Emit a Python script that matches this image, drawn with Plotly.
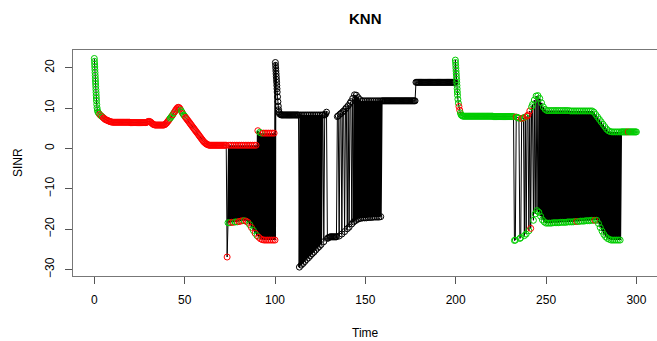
import plotly.graph_objects as go

STEP = 0.5

# ---------------- data (SINR per sample; class: g=green, r=red, k=black) -------------
# A: initial fast drop (explicit sample times)
tA = [0.0, 0.08, 0.16, 0.24, 0.32, 0.40, 0.48, 0.56, 0.64, 0.72, 0.80, 0.88, 0.96,
      1.04, 1.12, 1.20, 1.35, 1.5, 1.7]
vA = [22.3, 21.6, 20.9, 20.2, 19.5, 18.8, 18.1, 17.4, 16.7, 16.0, 15.3, 14.6, 13.9,
      13.2, 12.5, 11.8, 10.9, 10.1, 9.5]
cA = "g" * 19

# B: t = 2.0 ... 73.0 (uniform 0.5 steps)
b1_t0 = 2.0
b1_v = [9.0, 8.7, 8.4, 8.2, 8.0, 7.8, 7.6, 7.4, 7.2, 7.1, 7.0, 6.9, 6.8, 6.7, 6.6, 6.6, 6.5]
b1_c = "ggrgrgrrrrrrrrrrr"
b2_t0 = 10.5
b2_v = [6.5, 6.5, 6.5, 6.5, 6.5, 6.5, 6.5, 6.5, 6.5, 6.5, 6.5, 6.5, 6.5, 6.5, 6.5, 6.5,
        6.5, 6.5, 6.5, 6.4, 6.4, 6.4, 6.4, 6.4, 6.4, 6.4, 6.4, 6.4, 6.4, 6.4, 6.4, 6.4,
        6.4, 6.4, 6.4, 6.4, 6.4]
b2_c = "r" * 37
b3_t0 = 29.0
b3_v = [6.5, 6.6, 6.7, 6.7, 6.6, 6.4, 6.2, 6.0, 5.9, 5.8, 5.8, 5.8, 5.8, 5.8, 5.8, 5.8,
        5.8, 5.8, 5.8, 5.8, 5.9, 6.1, 6.3, 6.6, 6.9, 7.2]
b3_c = "r" * 26
b4_t0 = 42.0
b4_v = [7.5, 7.8, 8.1, 8.4, 8.8, 9.1, 9.5, 9.8, 10.1, 10.2, 10.1, 9.8, 9.4, 9.0, 8.6, 8.3, 8.0]
b4_c = "gggrgrrrrrrrggrgg"
b5_t0 = 50.5
b5_v = [7.7, 7.4, 7.1, 6.8, 6.5, 6.2, 5.9, 5.6, 5.3, 5.0, 4.7, 4.4, 4.1, 3.8, 3.5, 3.2,
        2.9, 2.6, 2.3, 2.0, 1.7, 1.5, 1.3, 1.1, 1.0, 0.9]
b5_c = "r" * 26
b6_t0 = 63.5
b6_v = [0.8, 0.8, 0.8, 0.8, 0.8, 0.8, 0.8, 0.8, 0.8, 0.8, 0.8, 0.8, 0.8, 0.8, 0.8, 0.8,
        0.8, 0.8, 0.8, 0.8]
b6_c = "r" * 20

# B7: t = 73.5 single low sample, then switching every sample between two cells (74.0 ... 100.0)
b7_t0 = 73.5
b7_first_v = -26.9
b7_first_c = "r"
b7_low = [-18.4, -18.4, -18.3, -18.3, -18.2, -18.2, -18.1, -18.0, -17.9, -17.9, -18.0, -18.3,
          -18.9, -19.6, -20.3, -21.0, -21.6, -22.0, -22.4, -22.6, -22.7, -22.7, -22.7, -22.7,
          -22.7, -22.7, -22.7]
b7_low_c = "ggrrggrrrgrrgrgrgrrr" + "rrrrrrr"
b7_high = [0.8, 0.8, 0.8, 0.8, 0.8, 0.8, 0.8, 0.8, 0.8, 0.8, 0.8, 0.8, 0.8, 0.8, 0.8, 0.8,
           4.4, 4.0, 3.8, 3.8, 3.8, 3.8, 3.8, 3.8, 3.8, 3.8]
b7_high_c = "rrrrrrrrrrrrrrrr" + "rgg" + "rrrrrrr"

# C: fast drop after t = 100 (explicit sample times)
tC = [100.2, 100.3, 100.4, 100.5, 100.6, 100.7, 100.8, 100.9, 101.0, 101.1, 101.2, 101.4,
      101.6, 101.8, 102.0, 102.2]
vC = [21.3, 20.6, 19.9, 19.2, 18.5, 17.8, 17.1, 16.4, 15.6, 14.8, 14.0, 12.8, 11.6, 10.5,
      9.6, 9.0]
cC = "k" * 16

# D: t = 102.5 ... 199.5
d1_t0 = 102.5
d1_v = [8.6, 8.4, 8.3, 8.3, 8.3, 8.3, 8.3, 8.3, 8.3, 8.3, 8.3, 8.3, 8.3, 8.3, 8.3, 8.3,
        8.3, 8.3, 8.3, 8.3, 8.3, 8.3]
# D2: switching every sample, 113.5 ... 125.5 (low first)
d2_t0 = 113.5
d2_low = [-29.4, -28.9, -28.5, -28.0, -27.5, -27.1, -26.6, -26.1, -25.7, -25.2, -24.7,
          -24.3, -23.8]
d2_high = [8.3, 8.3, 8.3, 8.3, 8.3, 8.3, 8.3, 8.3, 8.3, 8.3, 8.3, 8.3]
d3_t0 = 126.0
d3_v = [8.3, 8.3, -23.1, 8.3, 8.5, 9.0, -22.3, -22.1, -22.0, -21.9, -21.9, -21.9, -21.9,
        -21.9, -21.9, -21.9, -21.9]
d4_t0 = 134.5
d4_v = [7.9, 8.1, -21.7, 8.5, 8.7, -21.2, 9.1, 9.3, -20.6, 9.8, 10.1, -19.9, 10.6, -19.5,
        11.2, 11.6, -18.7, 12.4]
# D5: switching every sample, 143.5 ... 158.5 (low first)
d5_t0 = 143.5
d5_low = [-18.2, -17.9, -17.6, -17.4, -17.3, -17.2, -17.2, -17.2, -17.1, -17.1, -17.1,
          -17.0, -17.0, -17.0, -17.0, -16.9]
d5_high = [13.3, 13.2, 12.6, 12.1, 11.8, 11.8, 11.8, 11.8, 11.8, 11.8, 11.8, 11.8, 11.8,
           11.8, 11.8]
d6_t0 = 159.0
d6_v = [11.8, 11.8, 11.8, 11.8, 11.8, 11.8, 11.8, 11.8, 11.8, 11.8, 11.8, 11.8,
        11.8, 11.8, 11.8, 11.8, 11.8, 11.8, 11.8, 11.8, 11.8, 11.8, 11.8, 11.8,
        11.8, 11.8, 11.8, 11.8, 11.8, 11.8, 11.8, 11.8, 11.8, 11.8, 11.8, 11.8,
        11.8, 11.8]
d7_t0 = 178.0
d7_v = [16.4, 16.4, 16.4, 16.4, 16.4, 16.4, 16.4, 16.4, 16.4, 16.4, 16.4, 16.4, 16.4, 16.4,
        16.4, 16.4, 16.4, 16.4, 16.4, 16.4, 16.4, 16.4, 16.4, 16.4, 16.4, 16.4, 16.4, 16.4,
        16.4, 16.4, 16.4, 16.4, 16.4, 16.4, 16.4, 16.4, 16.4, 16.4, 16.4, 16.4, 16.4, 16.4,
        16.4, 16.4]

# E: fast drop at t = 200 (explicit sample times)
tE = [199.8, 199.9, 200.0, 200.1, 200.2, 200.3, 200.4, 200.5, 200.6, 200.7, 200.8, 200.9,
      201.0, 201.2, 201.5, 201.8, 202.2, 202.6, 203.0]
vE = [21.9, 21.3, 20.6, 19.9, 19.2, 18.5, 17.8, 17.1, 16.4, 15.6, 14.8, 14.0, 13.2, 12.2,
      11.2, 10.4, 9.5, 8.8, 8.3]
cE = "g" * 15 + "rrgg"

# F: t = 203.5 ... 300.0
f1_t0 = 203.5
f1_v = [8.1,
        8.0, 8.0, 8.0, 8.0, 8.0, 8.0, 8.0, 8.0, 8.0, 8.0, 8.0, 8.0, 8.0, 8.0, 8.0, 8.0, 8.0,
        8.0, 8.0, 8.0, 8.0, 8.0, 8.0, 8.0, 8.0, 8.0, 8.0, 8.0, 8.0, 8.0, 8.0, 8.0, 8.0, 8.0,
        7.9, 7.9, 7.9, 7.9, 7.9, 7.9, 7.9, 7.9, 7.9, 7.9, 7.9, 7.9, 7.9, 7.9, 7.9, 7.9, 7.9,
        7.9, 7.9, 7.9, 7.9, 7.9, 7.9]
f1_c = "g" * 58
f2_t0 = 232.5
f2_v = [-22.8, -22.7, 7.8, 7.7, 7.6, 7.5, -22.3, -22.1, 7.4, 7.5, 7.6, -21.6, 7.8, -21.2,
        8.0, 8.3, -20.4, 9.3, -19.8, 10.3, 10.9, -17.8, 12.0, -16.2, 13.0, -15.4, 13.1]
f2_c = "ggrgggggrgrgggrrgrrgggggggg"
# F3: switching every sample, 246.0 ... 291.0 (low first)
f3_t0 = 246.0
f3_low = [-15.8, -16.8, -17.7, -18.2, -18.5,
          -18.5, -18.5, -18.5, -18.4, -18.4, -18.4, -18.4, -18.3, -18.3, -18.3,
          -18.3, -18.2, -18.2, -18.2, -18.2, -18.1, -18.1, -18.1, -18.0, -18.0,
          -18.0, -17.9, -17.9, -17.9, -17.8, -17.8, -17.8, -17.8,
          -18.6, -19.6, -20.5, -21.3, -21.9, -22.3, -22.5,
          -22.7, -22.7, -22.7, -22.7, -22.7, -22.7]
f3_low_c = "g" * 21 + "r" + "g" * 9 + "r" + "g" * 14
f3_high = [12.4, 11.3, 10.3, 9.7, 9.4,
           9.4, 9.4, 9.4, 9.4, 9.4, 9.4, 9.4, 9.4, 9.4, 9.4, 9.4, 9.4,
           9.3, 9.3, 9.3, 9.3, 9.3, 9.3, 9.3, 9.3, 9.3, 9.3, 9.3, 9.3, 9.3,
           9.0, 8.4, 7.8, 7.2, 6.6, 6.0, 5.4, 4.8, 4.4, 4.2,
           4.1, 4.1, 4.1, 4.1, 4.1]
f3_high_c = "g" * 45
f4_t0 = 291.5
f4_v = [4.1, 4.1, 4.1, 4.1, 4.1, 4.1, 4.1, 4.1, 4.1, 4.1, 4.1, 4.1, 4.1, 4.1, 4.1, 4.1,
        4.1, 4.1]
f4_c = "gggggggg" + "r" + "ggggggggg"

x_ticks = [0, 50, 100, 150, 200, 250, 300]
y_ticks = [-30, -20, -10, 0, 10, 20]

# ---------------- assemble the series -------------
T, V, C, W = [], [], [], []   # W: stroke width of the segment leaving each sample
THIN, DENSE = 1.0, 2.0


def add_explicit(ts, vs, cs, w=THIN):
    assert len(ts) == len(vs) == len(cs), (len(ts), len(vs), len(cs))
    T.extend(ts); V.extend(vs); C.extend(cs); W.extend([w] * len(vs))


def add_uniform(t0, vs, cs, w=THIN):
    assert len(vs) == len(cs), (t0, len(vs), len(cs))
    add_explicit([t0 + STEP * i for i in range(len(vs))], vs, cs, w)


def interleave(a, b):
    assert len(a) == len(b) + 1, (len(a), len(b))
    out = []
    for i in range(len(b)):
        out += [a[i], b[i]]
    out.append(a[-1])
    return out


add_explicit(tA, vA, cA)
add_uniform(b1_t0, b1_v, b1_c)
add_uniform(b2_t0, b2_v, b2_c)
add_uniform(b3_t0, b3_v, b3_c)
add_uniform(b4_t0, b4_v, b4_c)
add_uniform(b5_t0, b5_v, b5_c)
add_uniform(b6_t0, b6_v, b6_c)
add_uniform(b7_t0, [b7_first_v], b7_first_c)
add_uniform(b7_t0 + STEP, interleave(b7_low, b7_high),
            "".join(interleave(list(b7_low_c), list(b7_high_c))), DENSE)
add_explicit(tC, vC, cC)
add_uniform(d1_t0, d1_v, "k" * len(d1_v))
add_uniform(d2_t0, interleave(d2_low, d2_high), "k" * (len(d2_low) + len(d2_high)), DENSE)
add_uniform(d3_t0, d3_v, "k" * len(d3_v))
add_uniform(d4_t0, d4_v, "k" * len(d4_v))
add_uniform(d5_t0, interleave(d5_low, d5_high), "k" * (len(d5_low) + len(d5_high)), DENSE)
add_uniform(d6_t0, d6_v, "k" * len(d6_v))
add_uniform(d7_t0, d7_v, "k" * len(d7_v))
add_explicit(tE, vE, cE)
add_uniform(f1_t0, f1_v, f1_c)
add_uniform(f2_t0, f2_v, f2_c)
add_uniform(f3_t0, interleave(f3_low, f3_high),
            "".join(interleave(list(f3_low_c), list(f3_high_c))), DENSE)
add_uniform(f4_t0, f4_v, f4_c)

palette = {"g": "#00CD00", "r": "#FF0000", "k": "#000000"}
marker_colors = [palette[c] for c in C]

FONT = "Liberation Sans, Arial, Helvetica, sans-serif"

fig = go.Figure()

# connecting line, split into runs of equal stroke width (each segment drawn once)
start = 0
n = len(T)
while start < n - 1:
    end = start
    while end + 1 < n - 1 and W[end + 1] == W[start]:
        end += 1
    fig.add_trace(go.Scatter(x=T[start:end + 2], y=V[start:end + 2], mode="lines",
                             line=dict(color="black", width=W[start], simplify=False),
                             hoverinfo="skip", showlegend=False))
    start = end + 1

fig.add_trace(go.Scatter(x=T, y=V, mode="markers",
                         marker=dict(symbol="circle-open", size=6, color=marker_colors,
                                     line=dict(width=1)),
                         hoverinfo="skip", showlegend=False))

fig.update_layout(
    width=657, height=341,
    margin=dict(l=73, r=0, t=50, b=65),
    paper_bgcolor="white", plot_bgcolor="white",
    font=dict(family=FONT, size=12, color="black"),
    hovermode=False,
    xaxis=dict(range=[-11.8, 311.4], tickvals=x_ticks, ticks="outside", ticklen=7,
               tickcolor="#555", showline=True, mirror=True, linecolor="#777",
               linewidth=1, showgrid=False, zeroline=False, automargin=False,
               ticklabelstandoff=6,
               tickfont=dict(family=FONT, size=12, color="black")),
    yaxis=dict(range=[-31.6, 24.4], tickvals=y_ticks, ticks="outside", ticklen=7,
               tickcolor="#555", showline=True, mirror=False, linecolor="#777",
               linewidth=1, showgrid=False, zeroline=False, tickangle=-90,
               automargin=False, ticklabelstandoff=6,
               tickfont=dict(family=FONT, size=12, color="black")),
    annotations=[
        dict(text="<b>KNN</b>", xref="paper", yref="paper", x=0.5, y=(276 - 18) / 226,
             showarrow=False, xanchor="center", yanchor="middle",
             font=dict(family=FONT, size=15, color="black")),
        dict(text="Time", xref="paper", yref="paper", x=0.5, y=(276 - 333) / 226,
             showarrow=False, xanchor="center", yanchor="middle",
             font=dict(family=FONT, size=12, color="black")),
        dict(text="SINR", xref="paper", yref="paper", x=(18 - 73) / 584, y=0.5,
             showarrow=False, xanchor="center", yanchor="middle", textangle=-90,
             font=dict(family=FONT, size=12, color="black")),
    ],
)

fig.write_html("out.html",
               config={"displayModeBar": False, "staticPlot": True},
               post_script="document.body.style.margin='0px';"
                           "document.body.style.overflow='hidden';")
